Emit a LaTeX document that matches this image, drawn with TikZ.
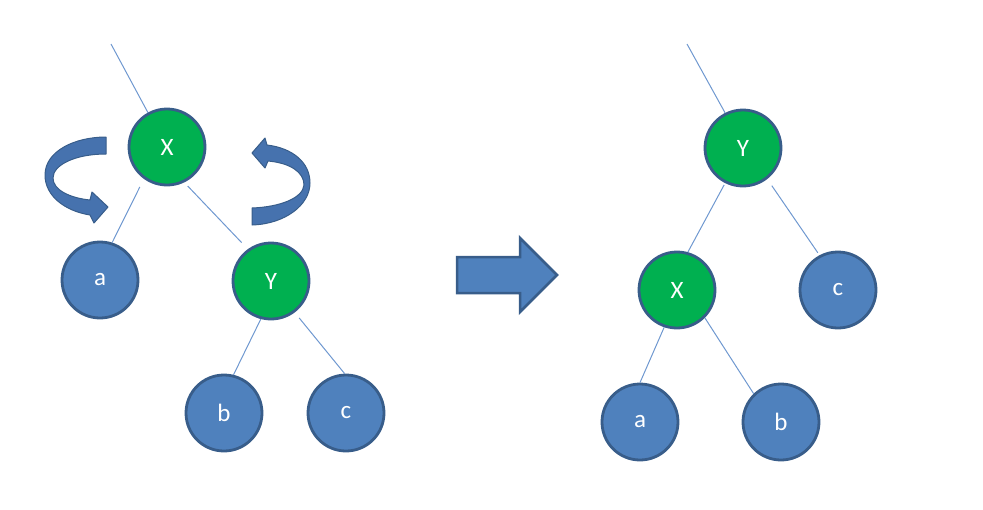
\documentclass[tikz,border=0pt]{standalone}
\usepackage{fontspec}
\setmainfont{Carlito}
\definecolor{nodeblue}{HTML}{4F81BD}
\definecolor{nodegreen}{HTML}{00B050}
\definecolor{rim}{HTML}{385D8A}
\definecolor{edgeblue}{HTML}{6F98D0}
\definecolor{turnfill}{HTML}{4672AE}
\begin{document}
\begin{tikzpicture}[x=1pt,y=-1pt,
  treenode/.style={circle,draw=rim,line width=2.8pt,minimum size=76pt,inner sep=0pt,text=white,font=\fontsize{25}{29}\selectfont},
  leaf/.style={treenode,fill=nodeblue},
  keynode/.style={treenode,fill=nodegreen},
  link/.style={draw=edgeblue,line width=1pt},
  turn/.style={fill=turnfill,draw=rim,line width=1pt,line join=round},
  bigarrow/.style={fill=nodeblue,draw=rim,line width=2.5pt,line join=miter}]
\useasboundingbox (0,0) rectangle (983,509);
% left tree
\node[keynode] (X1) at (167,147) {X};
\node[leaf] (a1) at (100,280) {a};
\node[keynode] (Y1) at (271,281) {Y};
\node[leaf] (b1) at (224,413) {b};
\node[leaf] (c1) at (346,413) {c};
\coordinate (topL) at (111,44);
\draw[link] (topL) -- (X1.119);
\draw[link,shorten <=9pt] (X1.-126) -- (a1.72);
\draw[link,shorten <=5pt,shorten >=9pt] (X1.-64) -- (Y1.126);
\draw[link] (Y1.-105) -- (b1.76);
\draw[link,shorten <=7pt] (Y1.-53) -- (c1.92);
% right tree
\node[keynode] (Y2) at (743,148) {Y};
\node[keynode] (X2) at (677,290) {X};
\node[leaf] (c2) at (838,290) {c};
\node[leaf] (a2) at (640,422) {a};
\node[leaf] (b2) at (781,422) {b};
\coordinate (topR) at (687,44);
\draw[link] (topR) -- (Y2.117);
\draw[link,shorten <=2pt] (Y2.-117) -- (X2.74);
\draw[link,shorten <=8pt,shorten >=3pt] (Y2.-52) -- (c2.118);
\draw[link] (X2.-109) -- (a2.90);
\draw[link] (X2.-45) -- (b2.134);
% rotation arrows
\path[turn] (106,137) .. controls (75,137) and (45,151) .. (45,175)
  .. controls (45,196) and (65,211) .. (90,215) -- (94,223) -- (108,207)
  -- (92,192) -- (90,200) .. controls (70,198) and (53,190) .. (53,178)
  .. controls (53,165) and (75,154) .. (106,154) -- cycle;
\path[turn] (252,153) -- (265,138) -- (267,145) .. controls (292,148) and (310,162) .. (310,183)
  .. controls (310,205) and (285,224) .. (252,225) -- (252,208)
  .. controls (280,207) and (303,198) .. (304,185)
  .. controls (304,172) and (290,163) .. (268,161) -- (265,168) -- cycle;
% big arrow
\path[bigarrow] (457,257) -- (520,257) -- (520,238) -- (557,275) -- (520,312) -- (520,293) -- (457,293) -- cycle;
\end{tikzpicture}
\end{document}
